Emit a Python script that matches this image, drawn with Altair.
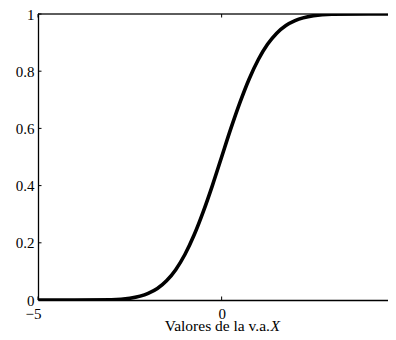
import altair as alt
import pandas as pd

# values
x_vals = [-5, -4, -3, -2.5, -2, -1.75, -1.5, -1.25, -1, -0.75, -0.5, -0.25, 0,
          0.25, 0.5, 0.75, 1, 1.25, 1.5, 1.75, 2, 2.5, 3, 4, 4.6]
y_vals = [0.0, 0.0, 0.001, 0.006, 0.023, 0.04, 0.067, 0.106, 0.159, 0.227, 0.309, 0.401, 0.5,
          0.599, 0.691, 0.773, 0.841, 0.894, 0.933, 0.96, 0.977, 0.994, 0.999, 1.0, 1.0]
x_ticks = [-5, 0]
y_ticks = [0, 0.2, 0.4, 0.6, 0.8, 1]
x_domain = [-5, 4.53]
title_main = "Valores de la v.a."
title_var = "X"

W, H = 350, 286
FONT = "Liberation Serif"

df = pd.DataFrame({"x": x_vals, "y": y_vals})
xs = alt.Scale(domain=x_domain, nice=False, zero=False)
ys = alt.Scale(domain=[0, 1], nice=False)

line = alt.Chart(df).mark_line(color="black", strokeWidth=3.6, interpolate="monotone", clip=True).encode(
    x=alt.X("x:Q", scale=xs,
            axis=alt.Axis(values=x_ticks, title=None, grid=False, tickSize=0, labelPadding=6,
                          labelOffset={"condition": {"test": "datum.value < -1", "value": -5}, "value": 0},
                          labelFont=FONT, labelFontSize=15, labelColor="black",
                          domainColor="black", domainWidth=1.3, labelFlush=False)),
    y=alt.Y("y:Q", scale=ys,
            axis=alt.Axis(values=y_ticks, title=None, grid=False, tickSize=0, labelPadding=4,
                          format="~g", labelFont=FONT, labelFontSize=15, labelColor="black",
                          domainColor="black", domainWidth=1.3, labelFlush=False)),
)

ytick_df = pd.DataFrame({"y": y_ticks})
ytick_rules = alt.Chart(ytick_df).mark_rule(color="black", strokeWidth=1).encode(
    y=alt.Y("y:Q", scale=ys), x=alt.value(0), x2=alt.value(3.5)
)

xtick_df = pd.DataFrame({"x": x_ticks})
xtick_bottom = alt.Chart(xtick_df).mark_rule(color="black", strokeWidth=1).encode(
    x=alt.X("x:Q", scale=xs), y=alt.value(H), y2=alt.value(H - 3.5)
)
xtick_top = alt.Chart(xtick_df).mark_rule(color="black", strokeWidth=1).encode(
    x=alt.X("x:Q", scale=xs), y=alt.value(0), y2=alt.value(3.5)
)
top_line = alt.Chart(xtick_df).mark_rule(color="black", strokeWidth=0.8).encode(
    x=alt.value(0), x2=alt.value(W), y=alt.value(0)
)

t1 = alt.Chart(pd.DataFrame({"t": [title_main]})).mark_text(
    font=FONT, fontSize=15.5, align="right", baseline="alphabetic", color="black"
).encode(text="t:N", x=alt.value(232), y=alt.value(H + 31))
t2 = alt.Chart(pd.DataFrame({"t": [title_var]})).mark_text(
    font=FONT, fontSize=15.5, fontStyle="italic", align="left", baseline="alphabetic", color="black"
).encode(text="t:N", x=alt.value(232.5), y=alt.value(H + 31))

chart = alt.layer(top_line, ytick_rules, xtick_bottom, xtick_top, line, t1, t2).properties(
    width=W, height=H,
    autosize=alt.AutoSizeParams(type="none"),
    padding={"left": 30, "top": 6, "right": 0, "bottom": 32},
).configure_view(stroke=None)

chart.save("out.html", embed_options={"renderer": "svg", "actions": False})
